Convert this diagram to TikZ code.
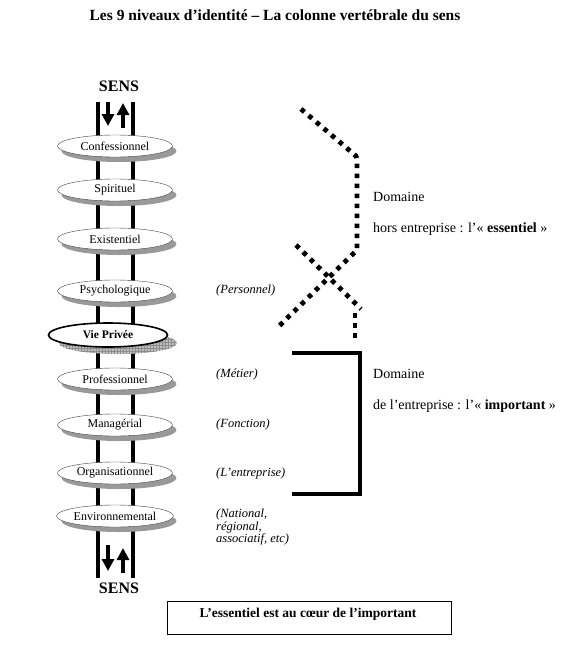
\documentclass[tikz,border=0pt]{standalone}
\usepackage{fontspec}
\setmainfont{Liberation Serif}
\usetikzlibrary{shapes.geometric,arrows.meta,patterns}

\begin{document}
\begin{tikzpicture}[x=1pt,y=-1pt,
	niveau/.style={ellipse,draw=black!75,fill=white,minimum width=115,minimum height=22,inner sep=0pt,font=\fontsize{12}{13}\selectfont},
	ombre/.style={ellipse,fill=gray!80,minimum width=115,minimum height=22,inner sep=0pt},
	colonne/.style={line width=3.5},
	fleche/.style={line width=4,-{Triangle[width=12pt,length=12pt]}},
	pointille/.style={line width=4.8,dash pattern=on 4.5pt off 5.5pt},
	remarque/.style={anchor=west,inner sep=0pt,align=left,font=\fontsize{12.5}{12.5}\selectfont\itshape},
	domaine/.style={anchor=west,inner sep=0pt,font=\fontsize{14}{16}\selectfont},
	sens/.style={font=\fontsize{16}{18}\selectfont\bfseries}]
	\useasboundingbox (0,0) rectangle (567,654);
	\node[font=\fontsize{15.5}{18}\selectfont\bfseries] (titre) at (275,15) {Les 9 niveaux d’identité – La colonne vertébrale du sens};
	% la colonne
	\node[sens] (senshaut) at (119,86) {SENS};
	\node[sens] (sensbas) at (119,588) {SENS};
	\draw[colonne] (98,102) -- (98,578);
	\draw[colonne] (133,102) -- (133,578);
	\draw[fleche] (108,102) -- (108,126);
	\draw[fleche] (123,128) -- (123,103);
	\draw[fleche] (108,545) -- (108,571);
	\draw[fleche] (123,573) -- (123,548);
	\foreach \y/\n/\t in {146/conf/Confessionnel,190/spir/Spirituel,239/exis/Existentiel,291/psy/Psychologique,
		379/pro/Professionnel,425/man/Managérial,473/org/Organisationnel,516/env/Environnemental} {
		\node[ombre] (\n-ombre) at (119,\y+5) {};
		\node[niveau] (\n) at (115,\y) {\t};
	}
	% vie privee
	\fill[gray!50] (118,343) ellipse (59 and 11);
	\fill[pattern=grid,pattern color=gray!90] (118,343) ellipse (59 and 11);
	\node[ellipse,draw,line width=1.6,fill=white,minimum width=119,minimum height=24,inner sep=0pt,
		font=\fontsize{11.5}{13}\selectfont\bfseries] (vie) at (108,335) {Vie Privée};
	% remarques
	\node[remarque] (perso) at (216,290) {(Personnel)};
	\node[remarque] (metier) at (216,374) {(Métier)};
	\node[remarque] (fonction) at (216,424) {(Fonction)};
	\node[remarque] (entr) at (216,473) {(L’entreprise)};
	\node[remarque,anchor=north west] (nation) at (216,509) {(National,\\régional,\\associatif, etc)};
	% domaines
	\draw[pointille] (301,109) -- (356,156) -- (357,160) -- (357,250) -- (276,329);
	\draw[pointille] (296,245) -- (361,309);
	\draw[pointille] (355,313) -- (355,343);
	\draw[line width=3.5] (292,353) -- (360,353) -- (360,494) -- (292,494);
	\node[domaine] (dom1) at (373,197) {Domaine};
	\node[domaine] (hors) at (373,229) {hors entreprise : l’« \textbf{essentiel} »};
	\node[domaine] (dom2) at (373,374) {Domaine};
	\node[domaine] (dans) at (373,406) {de l’entreprise : l’« \textbf{important} »};
	% encadre
	\draw[line width=0.9] (167,601) rectangle (451,634);
	\node[font=\fontsize{13.5}{16}\selectfont\bfseries] (coeur) at (308,614) {L’essentiel est au cœur de l’important};
\end{tikzpicture}
\end{document}
